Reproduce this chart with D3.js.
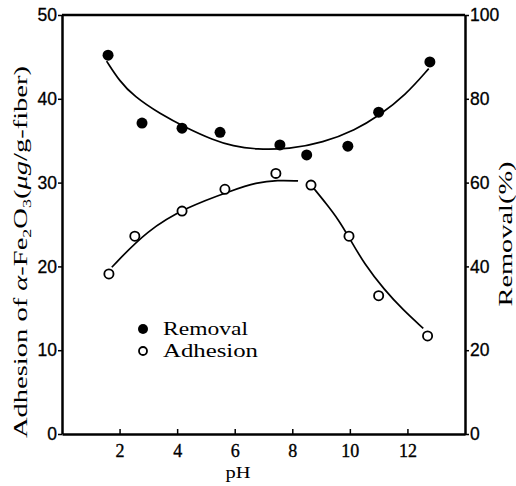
<!DOCTYPE html>
<html>
<head>
<meta charset="utf-8">
<script src="https://cdn.jsdelivr.net/npm/d3@7"></script>
<style>
    body { margin: 0; background: #fff; }
    svg { display: block; }
</style>
</head>
<body>
<div id="chart"></div>
<script>
// measured points (pH vs value)
const removalPH = [1.6, 2.78, 4.17, 5.49, 7.57, 8.5, 9.93, 11.0, 12.78];
const removalPct = [90.4, 74.2, 73.0, 72.0, 69.0, 66.6, 68.7, 76.8, 88.8];
const adhesionPH = [1.63, 2.53, 4.17, 5.66, 7.43, 8.65, 9.97, 11.0, 12.7];
const adhesionVal = [19.1, 23.6, 26.6, 29.2, 31.1, 29.7, 23.6, 16.5, 11.7];

// hand drawn trend lines
const removalCurvePH = [1.55, 2.0, 2.5, 3.4, 4.34, 5.24, 5.94, 6.74, 7.9, 9.06, 10.2, 11.0, 11.94, 12.74];
const removalCurvePct = [89.0, 84.2, 80.6, 76.4, 73.0, 70.2, 68.7, 67.9, 68.0, 69.5, 72.6, 75.9, 80.9, 87.2];
const adhesionRisePH = [1.73, 2.95, 4.34, 5.94, 6.74, 7.5, 8.2];
const adhesionRiseVal = [19.9, 24.3, 27.1, 29.1, 30.0, 30.3, 30.2];
const adhesionFallPH = [8.75, 9.2, 9.6, 10.0, 10.5, 11.2, 11.85, 12.55];
const adhesionFallVal = [29.3, 27.4, 25.6, 23.3, 20.3, 17.2, 14.8, 12.6];

const xTicks = [2, 4, 6, 8, 10, 12];
const leftTicks = [0, 10, 20, 30, 40, 50];
const rightTicks = [0, 20, 40, 60, 80, 100];
const legendItems = ['Removal', 'Adhesion'];

const SERIF = '"Liberation Serif", "Times New Roman", serif';
const SANS = '"Liberation Sans", Arial, sans-serif';

const width = 516, height = 486;
const plot = { left: 62, right: 465, top: 15, bottom: 434 };

const svg = d3.select('#chart').append('svg')
    .attr('width', width)
    .attr('height', height);

const x = d3.scaleLinear().domain([0, 14]).range([plot.left, plot.right]);
const yLeft = d3.scaleLinear().domain([0, 50]).range([plot.bottom, plot.top]);
const yRight = d3.scaleLinear().domain([0, 100]).range([plot.bottom, plot.top]);

// axes
const gx = svg.append('g')
    .attr('transform', `translate(0,${plot.bottom})`)
    .call(d3.axisBottom(x).tickValues(xTicks).tickSizeInner(-5).tickSizeOuter(0).tickPadding(10).tickFormat(d3.format('d')));
gx.selectAll('text')
    .style('font-family', SERIF).style('font-size', '18px')
    .attr('stroke', '#000').attr('stroke-width', 0.35);

const gl = svg.append('g')
    .attr('transform', `translate(${plot.left},0)`)
    .call(d3.axisLeft(yLeft).tickValues(leftTicks).tickSizeInner(4).tickSizeOuter(0).tickPadding(1));
gl.selectAll('text')
    .style('font-family', SANS).style('font-size', '17.5px')
    .attr('stroke', '#000').attr('stroke-width', 0.3);

const gr = svg.append('g')
    .attr('transform', `translate(${plot.right},0)`)
    .call(d3.axisRight(yRight).tickValues(rightTicks).tickSizeInner(4).tickSizeOuter(0).tickPadding(1));
gr.selectAll('text')
    .style('font-family', SANS).style('font-size', '17.5px')
    .attr('stroke', '#000').attr('stroke-width', 0.3);

[gx, gl, gr].forEach(g => {
    g.select('.domain').attr('stroke', '#000').attr('stroke-width', 2.5);
    g.selectAll('.tick line').attr('stroke', '#000').attr('stroke-width', 1.5);
    g.selectAll('text').attr('fill', '#000');
});

// top frame
svg.append('line')
    .attr('x1', plot.left).attr('x2', plot.right)
    .attr('y1', plot.top).attr('y2', plot.top)
    .attr('stroke', '#000').attr('stroke-width', 2.5);

// trend lines
const lineLeft = d3.line().x(d => x(d[0])).y(d => yLeft(d[1])).curve(d3.curveBasis);
const lineRight = d3.line().x(d => x(d[0])).y(d => yRight(d[1])).curve(d3.curveBasis);

svg.append('path')
    .attr('d', lineRight(d3.zip(removalCurvePH, removalCurvePct)))
    .attr('fill', 'none').attr('stroke', '#000').attr('stroke-width', 1.7);
svg.append('path')
    .attr('d', lineLeft(d3.zip(adhesionRisePH, adhesionRiseVal)))
    .attr('fill', 'none').attr('stroke', '#000').attr('stroke-width', 1.7);
svg.append('path')
    .attr('d', lineLeft(d3.zip(adhesionFallPH, adhesionFallVal)))
    .attr('fill', 'none').attr('stroke', '#000').attr('stroke-width', 1.7);

// markers
svg.selectAll('.removal')
    .data(d3.zip(removalPH, removalPct))
    .enter().append('circle')
    .attr('class', 'removal')
    .attr('cx', d => x(d[0]))
    .attr('cy', d => yRight(d[1]))
    .attr('r', 5.5)
    .attr('fill', '#000');

svg.selectAll('.adhesion')
    .data(d3.zip(adhesionPH, adhesionVal))
    .enter().append('circle')
    .attr('class', 'adhesion')
    .attr('cx', d => x(d[0]))
    .attr('cy', d => yLeft(d[1]))
    .attr('r', 4.6)
    .attr('fill', '#fff')
    .attr('stroke', '#000')
    .attr('stroke-width', 1.8);

// legend
const legend = svg.append('g').attr('transform', 'translate(143,329)');
legendItems.forEach((name, i) => {
    const row = legend.append('g').attr('transform', `translate(0,${i * 22})`);
    row.append('circle')
        .attr('r', i === 0 ? 5 : 4)
        .attr('fill', i === 0 ? '#000' : '#fff')
        .attr('stroke', '#000')
        .attr('stroke-width', i === 0 ? 0 : 1.8);
    row.append('text')
        .style('font-family', SERIF)
        .attr('x', 20).attr('y', 6)
        .attr('font-size', 18)
        .attr('textLength', i === 0 ? 85 : 95)
        .attr('lengthAdjust', 'spacingAndGlyphs')
        .text(name);
});

// axis titles
svg.append('text')
    .style('font-family', SERIF)
    .attr('x', 238).attr('y', 478)
    .attr('text-anchor', 'middle')
    .attr('font-size', 17)
    .attr('textLength', 25)
    .attr('lengthAdjust', 'spacingAndGlyphs')
    .text('pH');

const yTitle = svg.append('text')
    .style('font-family', SERIF)
    .attr('transform', 'translate(27,252) rotate(-90)')
    .attr('text-anchor', 'middle')
    .attr('font-size', 19)
    .attr('textLength', 372)
    .attr('lengthAdjust', 'spacingAndGlyphs');
yTitle.append('tspan').text('Adhesion of ');
yTitle.append('tspan').attr('font-style', 'italic').text('α');
yTitle.append('tspan').text('-Fe');
yTitle.append('tspan').attr('font-size', 12).attr('dy', 4).text('2');
yTitle.append('tspan').attr('dy', -4).text('O');
yTitle.append('tspan').attr('font-size', 12).attr('dy', 4).text('3');
yTitle.append('tspan').attr('dy', -4).text('(');
yTitle.append('tspan').attr('font-style', 'italic').text('μg');
yTitle.append('tspan').text('/g-fiber)');

svg.append('text')
    .style('font-family', SERIF)
    .attr('transform', 'translate(512,234) rotate(-90)')
    .attr('text-anchor', 'middle')
    .attr('font-size', 19)
    .attr('textLength', 145)
    .attr('lengthAdjust', 'spacingAndGlyphs')
    .text('Removal(%)');
</script>
</body>
</html>
